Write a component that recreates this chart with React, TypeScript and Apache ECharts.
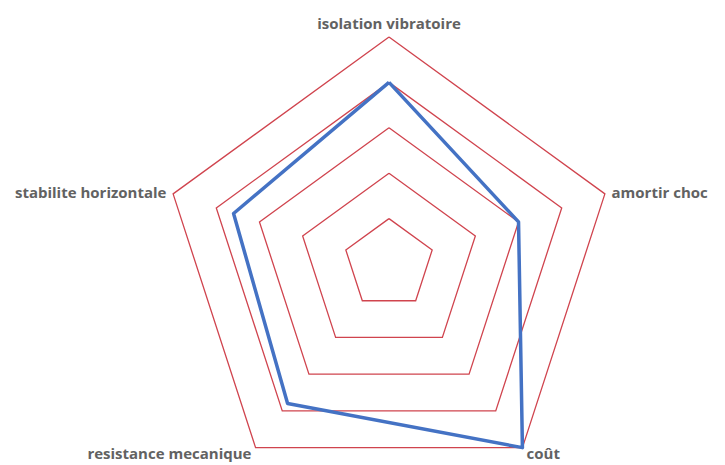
import React, { useEffect, useRef } from "react";
import * as echarts from "echarts";

// ECharts radar runs counter-clockwise from the top
const indicators = [
  "isolation vibratoire",
  "stabilite horizontale",
  "resistance mecanique",
  "coût",
  "amortir choc",
];
const maxValue = 5;
const seriesValues = [4, 3.6, 3.8, 5, 3];

export default function App() {
  const ref = useRef<HTMLDivElement>(null);
  useEffect(() => {
    if (!ref.current) return;
    const chart = echarts.init(ref.current, undefined, { renderer: "svg" });
    chart.setOption({
      animation: false,
      backgroundColor: "#ffffff",
      radar: {
        center: [389, 264],
        radius: 227,
        startAngle: 90,
        splitNumber: 5,
        shape: "polygon",
        indicator: indicators.map((name) => ({ name, max: maxValue, min: 0 })),
        axisName: {
          color: "#626262",
          fontFamily: "Open Sans",
          fontWeight: "bold",
          fontSize: 15,
        },
        nameGap: 7,
        axisLine: { show: false },
        axisTick: { show: false },
        axisLabel: { show: false },
        splitArea: { show: false },
        splitLine: { lineStyle: { color: "#d0444e", width: 1.3 } },
      },
      series: [
        {
          type: "radar",
          symbol: "none",
          lineStyle: { color: "#4472c4", width: 3.5 },
          data: [{ value: seriesValues, name: "série" }],
        },
      ],
    });
    return () => chart.dispose();
  }, []);
  return (
    <div
      ref={ref}
      style={{ position: "fixed", left: 0, top: 0, width: 725, height: 465 }}
    />
  );
}
